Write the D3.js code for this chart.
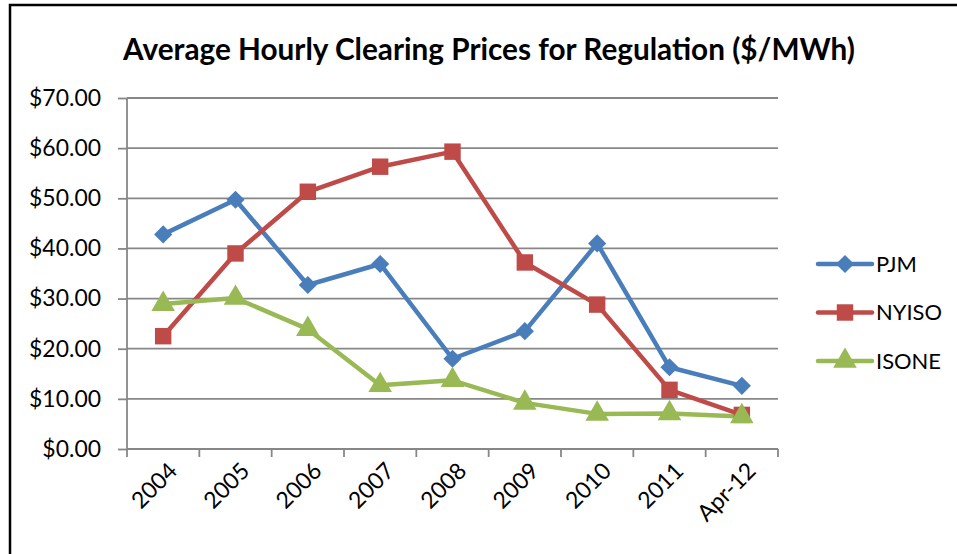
<!DOCTYPE html>
<html><head><meta charset="utf-8">
<script src="https://cdn.jsdelivr.net/npm/d3@7"></script>
<style>
body{margin:0;background:#fff;}
svg{display:block;}
text{font-family:Lato,"Noto Sans",sans-serif;}
</style></head>
<body>
<svg id="chart" width="957" height="554"></svg>
<script>
const categories = ["2004","2005","2006","2007","2008","2009","2010","2011","Apr-12"];
const pjm   = [42.8, 49.7, 32.7, 36.9, 18.0, 23.5, 41.0, 16.3, 12.6];
const nyiso = [22.5, 39.0, 51.3, 56.3, 59.3, 37.2, 28.8, 11.8, 6.8];
const isone = [28.9, 30.1, 23.9, 12.7, 13.7, 9.2, 7.0, 7.1, 6.5];
const seriesNames = ["PJM","NYISO","ISONE"];
const yTicks = [0,10,20,30,40,50,60,70];
const title = "Average Hourly Clearing Prices for Regulation ($/MWh)";

const colors = {PJM:"#4A7EBB", NYISO:"#BE4B48", ISONE:"#98B954"};
const symbols = {PJM:d3.symbolSquare, NYISO:d3.symbolSquare, ISONE:d3.symbolTriangle};
const symRot = {PJM:45, NYISO:0, ISONE:0};
const symSize = {PJM:165, NYISO:270, ISONE:240};
const series = [
  {name:"PJM", values:pjm},
  {name:"NYISO", values:nyiso},
  {name:"ISONE", values:isone}
];

const svg = d3.select("#chart");
const L=127, R=778, T=98, B=449;

function fit(str, target, weight){
  const t = svg.append("text").attr("font-size",100).attr("font-weight",weight||"normal").text(str);
  const w = t.node().getComputedTextLength();
  t.remove();
  return 100*target/w;
}
const titleSize = fit(title, 732, "bold");
const tickSize = fit("$70.00", 72);
const legSize = fit("NYISO", 66);

// frame
svg.append("path").attr("d","M10,554 L10,5 L957,5").attr("fill","none").attr("stroke","#000").attr("stroke-width",2.5);

svg.append("text").attr("x",489).attr("y",60).attr("text-anchor","middle")
  .attr("font-size",titleSize).attr("font-weight","bold").attr("fill","#000").text(title);

const x = d3.scaleBand().domain(categories).range([L,R]);
const y = d3.scaleLinear().domain([0,70]).range([B,T]);

// gridlines
svg.append("g").selectAll("line").data(yTicks.filter(d=>d>0)).join("line")
  .attr("x1",L).attr("x2",R).attr("y1",d=>y(d)).attr("y2",d=>y(d))
  .attr("stroke","#878787").attr("stroke-width",1.8);

// y axis
const yAxis = d3.axisLeft(y).tickValues(yTicks).tickSize(9).tickPadding(17)
  .tickFormat(d=>"$"+d3.format(".2f")(d));
const gy = svg.append("g").attr("transform",`translate(${L},0)`).call(yAxis);
gy.select(".domain").attr("stroke","#878787").attr("stroke-width",1.8).attr("d",`M0,${T}V${B}`);
gy.selectAll(".tick line").attr("stroke","#878787").attr("stroke-width",1.8);
gy.selectAll(".tick text").attr("font-size",tickSize).attr("fill","#000").attr("font-family","Lato,sans-serif");

// x axis
const gx = svg.append("g").attr("transform",`translate(0,${B})`);
gx.append("line").attr("x1",L).attr("x2",R).attr("y1",0).attr("y2",0).attr("stroke","#878787").attr("stroke-width",1.8);
const edges = categories.map(c=>x(c)).concat([R]);
gx.selectAll("line.t").data(edges).join("line").attr("class","t")
  .attr("x1",d=>d).attr("x2",d=>d).attr("y1",0).attr("y2",8).attr("stroke","#878787").attr("stroke-width",1.8);
gx.selectAll("text").data(categories).join("text")
  .attr("transform",d=>`translate(${x(d)+x.bandwidth()/2+4},${12}) rotate(-45)`)
  .attr("text-anchor","end").attr("dy","0.7em").attr("font-size",tickSize).attr("fill","#000").text(d=>d);

const cx = c=>x(c)+x.bandwidth()/2;
const line = d3.line().x((d,i)=>cx(categories[i])).y(d=>y(d));

series.forEach(s=>{
  svg.append("path").datum(s.values).attr("d",line).attr("fill","none")
    .attr("stroke",colors[s.name]).attr("stroke-width",4.5).attr("stroke-linejoin","round");
});
series.forEach(s=>{
  svg.append("g").selectAll("path").data(s.values).join("path")
    .attr("transform",(d,i)=>`translate(${cx(categories[i])},${y(d)}) rotate(${symRot[s.name]})`)
    .attr("d",d3.symbol().type(symbols[s.name]).size(symSize[s.name])).attr("fill",colors[s.name]);
});

// legend
const lg = svg.append("g");
seriesNames.forEach((n,i)=>{
  const yy = 264 + i*48.5;
  lg.append("line").attr("x1",818).attr("x2",872).attr("y1",yy).attr("y2",yy)
    .attr("stroke",colors[n]).attr("stroke-width",4.5).attr("stroke-linecap","round");
  lg.append("path").attr("transform",`translate(845,${yy}) rotate(${symRot[n]})`)
    .attr("d",d3.symbol().type(symbols[n]).size(symSize[n])).attr("fill",colors[n]);
  lg.append("text").attr("x",876).attr("y",yy).attr("dy","0.35em").attr("font-size",legSize).attr("fill","#000").text(n);
});
</script>
</body></html>
